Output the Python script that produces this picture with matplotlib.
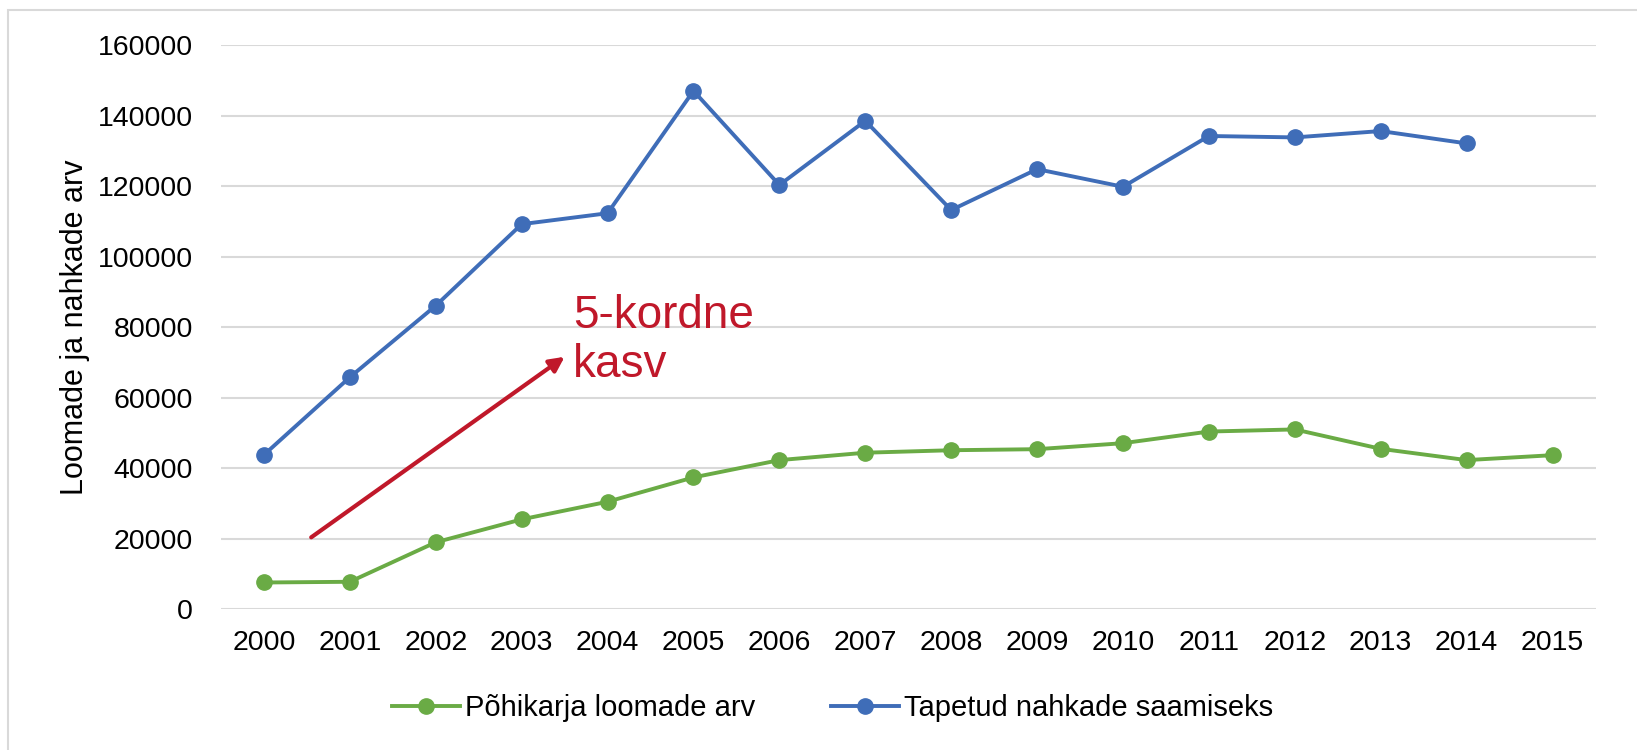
import numpy as np
import matplotlib.pyplot as plt
from matplotlib.patches import Rectangle

plt.rcParams['font.family'] = ['Liberation Sans', 'DejaVu Sans']

# Data
years = ['2000', '2001', '2002', '2003', '2004', '2005', '2006', '2007',
         '2008', '2009', '2010', '2011', '2012', '2013', '2014', '2015']
pohikari = [7600, 7800, 19000, 25500, 30500, 37400, 42300, 44400,
            45100, 45400, 47100, 50400, 51000, 45500, 42300, 43700]
tapetud = [43800, 65800, 86100, 109200, 112300, 147000, 120300, 138500,
           113200, 124800, 119800, 134200, 133800, 135600, 132100]

green = '#6AAB45'
blue = '#3F6DB8'
red = '#C0182A'

fig = plt.figure(figsize=(16.37, 7.5), dpi=100)
ax = fig.add_axes([221 / 1637, 1 - 609.3 / 750, (1595.5 - 221) / 1637, (609.3 - 45) / 750])

# outer chart border
fig.patches.append(Rectangle((8 / 1637, -0.1), 1.2, 1 - 10 / 750 + 0.1,
                             transform=fig.transFigure, fill=False,
                             edgecolor='#D9D9D9', linewidth=1.5))

x = np.arange(len(years))
ax.plot(x, pohikari, color=green, linewidth=2.8, marker='o', markersize=11,
        label='Põhikarja loomade arv', zorder=3)
ax.plot(x[:len(tapetud)], tapetud, color=blue, linewidth=2.8, marker='o',
        markersize=11, label='Tapetud nahkade saamiseks', zorder=3)

ax.set_xlim(-0.5, len(years) - 0.5)
ax.set_ylim(0, 160000)
ax.set_yticks(np.arange(0, 160001, 20000))
ax.set_xticks(x)
ax.set_xticklabels(years)
ax.tick_params(axis='both', length=0, labelsize=20.5)
ax.tick_params(axis='x', pad=15)
ax.tick_params(axis='y', pad=20)
ax.grid(axis='y', color='#D9D9D9', linewidth=1.5)
ax.set_axisbelow(True)
for s in ax.spines.values():
    s.set_visible(False)

ax.set_ylabel('Loomade ja nahkade arv', fontsize=22, labelpad=6)

# growth arrow and note
ax.annotate('', xy=(3.5, 71600), xytext=(0.55, 20400),
            arrowprops=dict(arrowstyle='-|>', color=red, lw=3,
                            mutation_scale=22, shrinkA=0, shrinkB=0))
ax.text(3.6, 89500, '5-kordne\nkasv', color=red, fontsize=33,
        va='top', ha='left', linespacing=1.15)

fig.legend(loc='center', bbox_to_anchor=(833 / 1637, 1 - 708 / 750), ncol=2,
           frameon=False, fontsize=21, handlelength=2.3, handletextpad=0.2,
           columnspacing=2.6)

fig.savefig('out.png', dpi=100)
